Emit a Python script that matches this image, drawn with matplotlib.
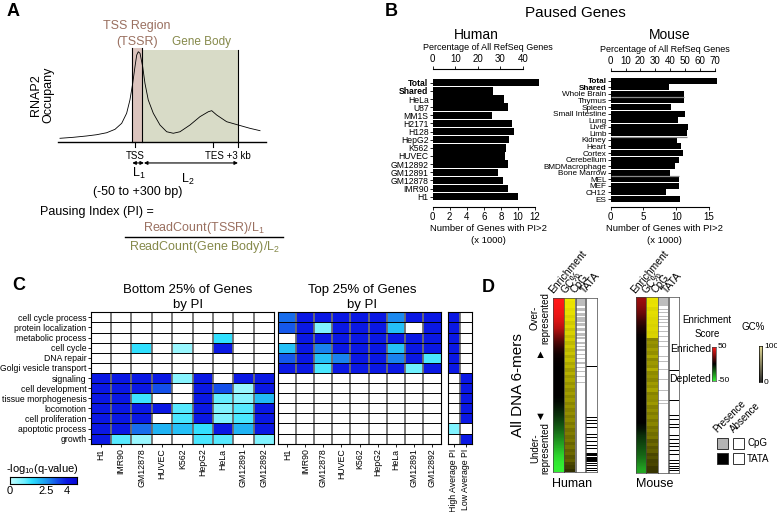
import numpy as np
import matplotlib.pyplot as plt
from matplotlib.colors import LinearSegmentedColormap
from matplotlib.patches import Rectangle
from matplotlib.lines import Line2D

plt.rcParams['font.family'] = ['Liberation Sans', 'DejaVu Sans']

W, H = 777, 512

# ---- A: schematic RNAP2 profile (position: TSS = 0, TES +3 kb = 100; occupancy a.u.)
profile_pos = [-72.8, -59.9, -46.9, -37.2, -27.5, -19.4, -12.9, -8.1, -4.9, -2.2, 0, 1.7, 3.2,
               4.9, 7.5, 9.7, 12.9, 17.8, 24.3, 30.8, 37.2, 43.7, 53.4, 63.1, 71.2, 74.5, 79.3,
               89.0, 100.3, 111.7, 121.4]
profile_occ = [3.8, 4.9, 6.4, 7.8, 10.0, 13.8, 20.5, 31.7, 46.5, 65.1, 83.6, 96.7, 100.3,
               98.6, 83.6, 65.1, 46.5, 31.7, 18.6, 11.1, 9.4, 11.1, 18.6, 27.9, 33.4, 34.6, 29.8,
               22.3, 18.6, 14.9, 12.3]
tssr = (-2.6, 7.1)
tes_pos = 75.7
gene_end = 100

# ---- B: paused genes (x 1000)
human_lines = ['Total', 'Shared', 'HeLa', 'U87', 'MM1S', 'H2171', 'H128', 'HepG2', 'K562',
               'HUVEC', 'GM12892', 'GM12891', 'GM12878', 'IMR90', 'H1']
human_paused = [12.5, 7.1, 8.4, 8.8, 7.0, 9.3, 9.5, 9.0, 8.6, 8.5, 8.8, 7.7, 8.3, 8.8, 10.0]
mouse_samples = ['Total', 'Shared', 'Whole Brain', 'Thymus', 'Spleen', 'Small Intestine', 'Lung',
                 'Liver', 'Limb', 'Kidney', 'Heart', 'Cortex', 'Cerebellum', 'BMDMacrophage',
                 'Bone Marrow', 'MEL', 'MEF', 'CH12', 'ES']
mouse_paused = [16.3, 8.85, 11.2, 11.2, 9.2, 11.4, 10.3, 11.75, 11.65, 10.1, 10.7, 11.0, 10.5,
                9.8, 9.0, 10.4, 10.4, 8.5, 10.6]
mouse_groups_after = [2, 8, 14]
human_refseq_k = 26.5
mouse_refseq_k = 22.7

# ---- C: GO enrichment, -log10(q)
go_terms = ['cell cycle process', 'protein localization', 'metabolic process', 'cell cycle',
            'DNA repair', 'Golgi vesicle transport', 'signaling', 'cell development',
            'tissue morphogenesis', 'locomotion', 'cell proliferation', 'apoptotic process', 'growth']
cell_lines = ['H1', 'IMR90', 'GM12878', 'HUVEC', 'K562', 'HepG2', 'HeLa', 'GM12891', 'GM12892']
bottom_q = [
    [0, 0, 0, 0, 0, 0, 0, 0, 0],
    [0, 0, 0, 0, 0, 0, 0, 0, 0],
    [0, 0, 0, 0, 0, 0, 1.5, 0, 0],
    [0, 0, 1.5, 0, 0.5, 0, 4, 0, 0],
    [0, 0, 0, 0, 0, 0, 0, 0, 0],
    [0, 0, 0, 0, 0, 0, 0, 0, 0],
    [4, 4, 4, 4, 0.7, 4, 0, 4, 4],
    [4, 4, 4, 3.3, 0, 4, 3.3, 0.5, 4],
    [4, 4, 1.4, 0, 0, 4, 1.1, 0.7, 2.1],
    [4, 4, 4, 4, 1.2, 4, 0.8, 1.2, 4],
    [4, 4, 4, 0, 1.3, 4, 0.8, 1.3, 4],
    [4, 4, 3.0, 2.2, 2.0, 1.5, 4, 2.2, 4],
    [4, 1.2, 0.5, 0, 0, 1.3, 1.2, 0, 0.8],
]
top_q = [
    [3.0, 4, 4, 4, 4, 4, 2.7, 4, 4],
    [3.2, 4, 0.8, 4, 4, 4, 2.0, 0, 4],
    [0, 4, 4, 4, 4, 4, 4, 4, 4],
    [2.0, 4, 2.8, 4, 4, 4, 2.0, 4, 4],
    [3.2, 4, 2.0, 2.8, 4, 4, 2.8, 4, 1.3],
    [4, 4, 1.3, 4, 4, 4, 4, 1.0, 4],
    [0] * 9, [0] * 9, [0] * 9, [0] * 9, [0] * 9, [0] * 9, [0] * 9,
]
avg_labels = ['High Average PI', 'Low Average PI']
avg_q = [[4, 0], [4, 0], [4, 0], [4, 0], [4, 0], [4, 0],
         [0, 4], [0, 4], [0, 4], [0, 4], [0, 4], [0.8, 0], [0, 4]]

# ---- D: 6-mer strips (top = over-represented)
human_enrich = [50, 48, 46, 42, 36, 26, 16, 8, 3, 1, 0, 0, 0, 0, 0, -2, -6, -10, -15, -20,
                -26, -32, -38, -44, -48, -50]
mouse_enrich = [30, 26, 20, 12, 6, 2, 0, 0, 0, 0, 0, 0, 0, 0, 0, 0, 0, 0, 0, -4, -10, -14,
                -18, -22, -28, -34]
human_gc = [97, 95, 96, 92, 94, 88, 92, 85, 90, 82, 88, 80, 86, 78, 84, 76, 82, 72, 80, 70,
            76, 66, 74, 64, 70, 62, 68, 60, 66, 58, 64, 56, 62, 55, 60, 52, 58, 50, 56, 48,
            52, 46, 50, 42, 48, 40, 44, 36, 40, 30, 26, 20]
mouse_gc = [96, 94, 95, 90, 93, 92, 90, 91, 88, 90, 87, 89, 55, 62, 58, 66, 60, 70, 57, 64,
            60, 72, 58, 62, 56, 65, 60, 68, 55, 60, 58, 64, 54, 60, 52, 58, 50, 56, 48, 52,
            46, 50, 38, 44, 36, 40, 30, 34, 28, 30, 24, 22]
human_cpg = [(0.0, 0.045), (0.055, 0.075), (0.085, 0.1), (0.11, 0.135), (0.145, 0.16),
             (0.17, 0.19), (0.2, 0.215), (0.225, 0.235), (0.25, 0.265), (0.275, 0.282),
             (0.295, 0.305), (0.32, 0.328), (0.345, 0.35), (0.37, 0.377), (0.395, 0.4),
             (0.42, 0.425), (0.45, 0.456), (0.48, 0.486), (0.515, 0.52)]
human_tata = [(0.39, 0.395), (0.469, 0.474), (0.686, 0.691), (0.702, 0.707), (0.721, 0.726),
              (0.744, 0.749), (0.763, 0.768), (0.783, 0.788), (0.802, 0.807), (0.821, 0.826),
              (0.844, 0.849), (0.863, 0.868), (0.895, 0.91), (0.915, 0.93), (0.935, 0.942),
              (0.948, 0.953), (0.96, 0.965), (0.978, 0.984), (0.99, 0.995)]
mouse_cpg = [(0.0, 0.05), (0.066, 0.072), (0.085, 0.091), (0.104, 0.11), (0.123, 0.129),
             (0.143, 0.149), (0.162, 0.168), (0.19, 0.196), (0.219, 0.225), (0.248, 0.254),
             (0.277, 0.283), (0.334, 0.34), (0.363, 0.369), (0.411, 0.417), (0.468, 0.474),
             (0.526, 0.532), (0.583, 0.589), (0.602, 0.608)]
mouse_tata = [(0.416, 0.421), (0.588, 0.593), (0.67, 0.675), (0.695, 0.7), (0.722, 0.727),
              (0.741, 0.746), (0.76, 0.765), (0.783, 0.788), (0.806, 0.811), (0.829, 0.834),
              (0.849, 0.854), (0.872, 0.877), (0.895, 0.9), (0.914, 0.919), (0.928, 0.935),
              (0.943, 0.95), (0.959, 0.966), (0.974, 0.98), (0.987, 0.993)]

brown = '#9a7060'
olive = '#85894a'

fig = plt.figure(figsize=(W / 100, H / 100), dpi=100)


def px_axes(x0, y0, x1, y1):
    return fig.add_axes([x0 / W, 1 - y1 / H, (x1 - x0) / W, (y1 - y0) / H])


def ftext(x, y, s, **kw):
    kw.setdefault('ha', 'center')
    kw.setdefault('va', 'center')
    return fig.text(x / W, 1 - y / H, s, **kw)


# ================= A =================
ftext(13, 12, 'A', fontsize=13, fontweight='bold')
ax = px_axes(50, 40, 270, 200)
ax.set_xlim(-82.5, 131.1)
ax.set_ylim(-65, 113.4)
ax.axis('off')
ax.add_patch(Rectangle((tssr[0], 0), tssr[1] - tssr[0], 104, fc='#dcc4be', ec='none'))
ax.add_patch(Rectangle((tssr[1], 0), gene_end - tssr[1], 102, fc='#d8dbc7', ec='none'))
for xv, top in [(tssr[0], 104), (tssr[1], 104), (gene_end, 102)]:
    ax.plot([xv, xv], [0, top], color='black', lw=0.8)
ax.plot(profile_pos, profile_occ, color='black', lw=0.6)
ax.plot([-75, 127], [0, 0], color='black', lw=1.0)
for xv in [0, tes_pos, gene_end]:
    ax.plot([xv, xv], [0, -5.5], color='black', lw=0.8)
arr = dict(arrowstyle='<|-|>', lw=0.8, color='black', mutation_scale=5, shrinkA=0, shrinkB=0)
ax.annotate('', xy=(tssr[0], -23.7), xytext=(8.7, -23.7), arrowprops=arr)
ax.annotate('', xy=(8.7, -23.7), xytext=(gene_end, -23.7), arrowprops=arr)

ftext(137, 26, 'TSS Region', color=brown, fontsize=9)
ftext(137, 42, '(TSSR)', color=brown, fontsize=9)
ftext(201, 42, 'Gene Body', color=olive, fontsize=8.5)
ftext(42, 95, 'RNAP2\nOccupany', rotation=90, fontsize=9, linespacing=1.0)
ftext(135, 156, 'TSS', fontsize=7)
ftext(228, 156, 'TES +3 kb', fontsize=7)
ftext(139, 173, r'L$\mathregular{_1}$', fontsize=9)
ftext(188, 179, r'L$\mathregular{_2}$', fontsize=9)
ftext(138, 192, '(-50 to +300 bp)', fontsize=9)
ftext(40, 212, 'Pausing Index (PI) =', ha='left', fontsize=9)
ftext(204, 228, r'ReadCount(TSSR)/L$\mathregular{_1}$', color=brown, fontsize=9)
fig.add_artist(Line2D([125 / W, 283 / W], [1 - 237 / H, 1 - 237 / H], color='black', lw=1.0))
ftext(205, 247, r'ReadCount(Gene Body)/L$\mathregular{_2}$', color=olive, fontsize=9)

# ================= B =================
ftext(391, 12, 'B', fontsize=13, fontweight='bold')
ftext(575, 13, 'Paused Genes', fontsize=11)


def paused_panel(x0, y0, y1, px_per_k, xmax, xtick_vals, names, vals, refseq_k, pct_ticks,
                 pad_top, pad_bot, label_size):
    ax = px_axes(x0, y0, x0 + xmax * px_per_k, y1)
    n = len(names)
    ax.barh(range(n), vals, height=0.92, color='black')
    ax.set_ylim(n - 1 + pad_bot, -pad_top)
    ax.set_xlim(0, xmax)
    ax.set_yticks(range(n))
    ax.set_yticklabels(names, fontsize=label_size)
    for lab in ax.get_yticklabels()[:2]:
        lab.set_fontweight('bold')
    ax.tick_params(axis='y', length=2, width=0.6, pad=1)
    ax.set_xticks(xtick_vals)
    ax.tick_params(axis='x', length=2.5, width=0.6, labelsize=7, pad=1)
    for s in ['top', 'left', 'right']:
        ax.spines[s].set_visible(False)
    ax.spines['bottom'].set_bounds(0, xtick_vals[-1])
    ax.spines['bottom'].set_linewidth(0.8)
    ax.set_xlabel('Number of Genes with PI>2\n(x 1000)', fontsize=6.8, labelpad=2,
                  linespacing=1.4)
    ax2 = ax.twiny()
    ax2.set_xlim(0, xmax * 100.0 / refseq_k)
    ax2.set_xticks(pct_ticks)
    ax2.tick_params(axis='x', length=2.5, width=0.6, labelsize=7, pad=1)
    for s in ['bottom', 'left', 'right']:
        ax2.spines[s].set_visible(False)
    ax2.spines['top'].set_bounds(0, pct_ticks[-1])
    ax2.spines['top'].set_linewidth(0.8)
    ax2.set_xlabel('Percentage of All RefSeq Genes', fontsize=6.5, labelpad=3)
    return ax


paused_panel(432.7, 69.3, 206.7, 8.52, 13, [0, 2, 4, 6, 8, 10, 12], human_lines,
             human_paused, human_refseq_k, [0, 10, 20, 30, 40], 1.65, 1.23, 6.2)
ftext(476, 35, 'Human', fontsize=10)
axm = paused_panel(610.7, 71, 206.7, 6.55, 16.5, [0, 5, 10, 15], mouse_samples,
                   mouse_paused, mouse_refseq_k, [0, 10, 20, 30, 40, 50, 60, 70], 1.48, 1.17, 5.9)
for i in mouse_groups_after:
    axm.hlines(i + 0.5, 0, max(mouse_paused[i], mouse_paused[i + 1]), color='#8a8a8a', lw=0.9)
ftext(670, 35, 'Mouse', fontsize=10)

# ================= C =================
ftext(19, 286, 'C', fontsize=13, fontweight='bold')
heat_cmap = LinearSegmentedColormap.from_list('q', [
    (0.0, '#c2ffff'), (0.21, '#70f0ff'), (0.32, '#30e0ff'), (0.47, '#20b2f4'),
    (0.6, '#1a80ee'), (0.7, '#1450ea'), (0.85, '#0a18e4'), (1.0, '#0808d8')])
QMAX = 4.7


def heat(x0, x1, data, xlabels, ylabels=None):
    ax = px_axes(x0, 312.3, x1, 443.7)
    a = np.array(data, dtype=float)
    nr, nc = a.shape
    ax.pcolormesh(np.ma.masked_less_equal(a, 0), cmap=heat_cmap, vmin=0, vmax=QMAX)
    ax.set_xlim(0, nc)
    ax.set_ylim(nr, 0)
    for c in range(1, nc):
        ax.axvline(c, color='#6e6e6e', lw=1.3)
    for r in range(1, nr):
        ax.axhline(r, color='black', lw=0.7)
    for s in ax.spines.values():
        s.set_linewidth(0.8)
    ax.set_xticks(np.arange(nc) + 0.5)
    ax.set_xticklabels(xlabels, rotation=90, fontsize=6.3)
    ax.tick_params(axis='x', length=2, width=0.6, pad=1.5)
    if ylabels:
        ax.set_yticks(np.arange(nr) + 0.5)
        ax.set_yticklabels(ylabels, fontsize=6.2)
        ax.tick_params(axis='y', length=2, width=0.6, pad=1)
    else:
        ax.set_yticks([])
    return ax


heat(90.7, 274, bottom_q, cell_lines, go_terms)
heat(278.3, 440.7, top_q, cell_lines)
heat(447.7, 471.7, avg_q, avg_labels)
ftext(188, 290, 'Bottom 25% of Genes', fontsize=9.5)
ftext(188, 305, 'by PI', fontsize=9.5)
ftext(362, 290, 'Top 25% of Genes', fontsize=9.5)
ftext(362, 305, 'by PI', fontsize=9.5)

cax = px_axes(10, 476.7, 77, 484.3)
cax.imshow(np.linspace(0, QMAX, 200)[None, :], aspect='auto', cmap=heat_cmap,
           extent=(0, QMAX, 0, 1), vmin=0, vmax=QMAX)
cax.set_yticks([])
cax.set_xticks([0, 2.5, 4])
cax.set_xticklabels(['0', '2.5', '4'])
cax.tick_params(axis='x', length=0, labelsize=8, pad=1)
ftext(42, 469, r'-log$\mathregular{_{10}}$(q-value)', fontsize=8)

# ================= D =================
ftext(488, 288, 'D', fontsize=13, fontweight='bold')
enr_cmap = LinearSegmentedColormap.from_list('enr', ['#33f033', 'black', '#ff1818'])
gc_cmap = LinearSegmentedColormap.from_list('gc', ['black', '#f6ee00'])
gc_leg_cmap = LinearSegmentedColormap.from_list('gcl', ['#2a2a2a', '#e4dc98'])


def strip_axes(x0, x1, y0, y1):
    ax = px_axes(x0, y0, x1, y1)
    ax.set_xticks([])
    ax.set_yticks([])
    for s in ax.spines.values():
        s.set_linewidth(0.5)
        s.set_color('#444444')
    return ax


def strips(xs, y0, y1, enrich, gc, cpg, tata):
    ax = strip_axes(xs[0], xs[1], y0, y1)
    ax.imshow(np.array(enrich, float)[:, None], aspect='auto', cmap=enr_cmap, vmin=-50,
              vmax=50, interpolation='bilinear', extent=(0, 1, 1, 0))
    ax = strip_axes(xs[1], xs[2], y0, y1)
    ax.imshow(np.array(gc, float)[:, None], aspect='auto', cmap=gc_cmap, vmin=0, vmax=100,
              interpolation='nearest', extent=(0, 1, 1, 0))
    ax = strip_axes(xs[3], xs[4], y0, y1)
    ax.set_ylim(1, 0)
    for a, b in cpg:
        ax.axhspan(a, b, color='#bdbdbd', lw=0)
    ax = strip_axes(xs[5], xs[6], y0, y1)
    ax.set_ylim(1, 0)
    for a, b in tata:
        ax.axhspan(a, b, color='black', lw=0)


strips([552.7, 564, 574.7, 576, 585, 586.3, 597], 298.3, 471.7,
       human_enrich, human_gc, human_cpg, human_tata)
strips([635.7, 646.3, 657.7, 658.3, 668.3, 669, 679], 297.3, 472.7,
       mouse_enrich, mouse_gc, mouse_cpg, mouse_tata)

for xs in [(555, 566.7, 576.7, 586.7), (636.7, 648.3, 658, 668)]:
    for x, lab in zip(xs, ['Enrichment', 'GC%', 'CpG', 'TATA']):
        ftext(x, 295, lab, ha='left', va='bottom', rotation=50, rotation_mode='anchor',
              fontsize=7.5)

ftext(518, 385, 'All DNA 6-mers', rotation=90, fontsize=11)
ftext(540, 318, 'Over-\nrepresented', rotation=90, fontsize=7, linespacing=1.0)
ftext(540, 355, '\u25b2', fontsize=8)
ftext(540, 417, '\u25bc', fontsize=8)
ftext(540, 448, 'Under-\nrepresented', rotation=90, fontsize=7, linespacing=1.0)
ftext(572, 484, 'Human', fontsize=9)
ftext(655, 484, 'Mouse', fontsize=9)

ftext(707, 327, 'Enrichment\nScore', fontsize=7, linespacing=1.5)
lax = strip_axes(712.3, 716.3, 347.3, 380.7)
lax.imshow(np.linspace(50, -50, 100)[:, None], aspect='auto', cmap=enr_cmap, vmin=-50, vmax=50)
ftext(711, 349, 'Enriched', ha='right', fontsize=7.5)
ftext(711, 379, 'Depleted', ha='right', fontsize=7.5)
ftext(718, 347, '50', ha='left', fontsize=6)
ftext(718, 380, '-50', ha='left', fontsize=6)

ftext(753, 327, 'GC%', fontsize=7)
gax = strip_axes(759, 762.3, 346, 382)
gax.imshow(np.linspace(100, 0, 100)[:, None], aspect='auto', cmap=gc_leg_cmap, vmin=0, vmax=100)
for s in gax.spines.values():
    s.set_color('black')
ftext(764, 346, '100', ha='left', fontsize=6)
ftext(764, 382, '0', ha='left', fontsize=6)

ftext(719, 434, 'Presence', ha='left', va='bottom', rotation=45, rotation_mode='anchor',
      fontsize=7)
ftext(735, 434, 'Absence', ha='left', va='bottom', rotation=45, rotation_mode='anchor',
      fontsize=7)
for (x0, y0), fc in [((717.3, 437.7), '#b4b4b4'), ((733.3, 437.7), 'white'),
                     ((717.3, 453.3), 'black'), ((733.3, 453.3), 'white')]:
    fig.add_artist(Rectangle((x0 / W, 1 - (y0 + 11) / H), 10.4 / W, 11 / H, fc=fc,
                             ec='#333333', lw=0.7, transform=fig.transFigure))
ftext(747, 443, 'CpG', ha='left', fontsize=7)
ftext(747, 459, 'TATA', ha='left', fontsize=7)

fig.savefig('out.png', dpi=100)
